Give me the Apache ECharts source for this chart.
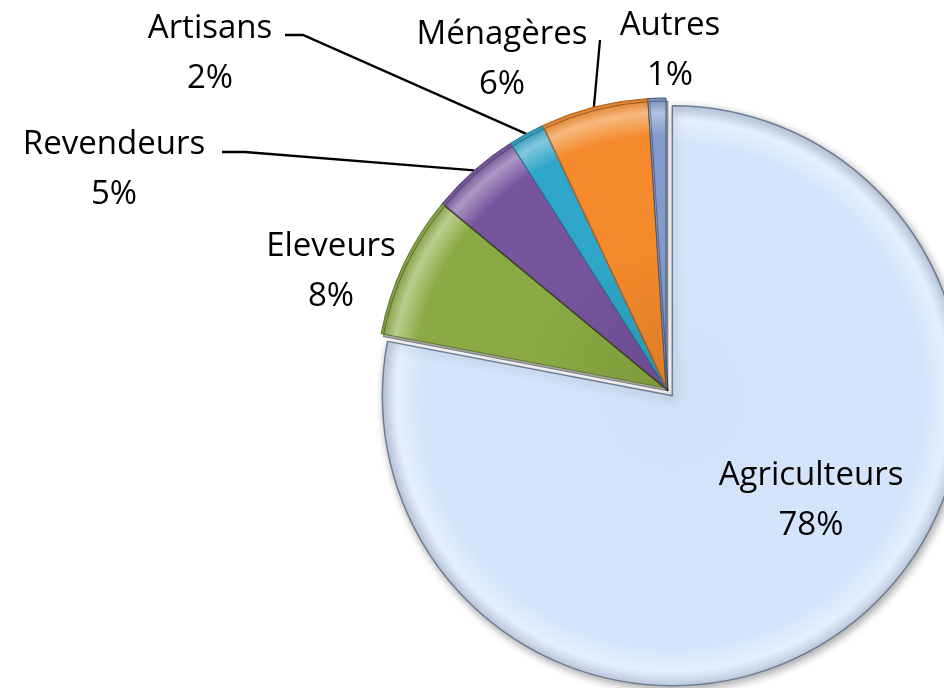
<!DOCTYPE html>
<html>
<head>
<meta charset="utf-8">
<script src="https://cdn.jsdelivr.net/npm/echarts@6/dist/echarts.min.js"></script>
<style>
  html, body { margin: 0; background: #fff; }
  #chart { width: 944px; height: 688px; }
</style>
</head>
<body>
<div id="chart"></div>
<script>
const categories = ['Agriculteurs', 'Eleveurs', 'Revendeurs', 'Artisans', 'Ménagères', 'Autres']
const shares = [78, 8, 5, 2, 6, 1]
const pulledOut = 0 // index of the slice drawn pulled away from the pie

const colors = ['#d4e5fb', '#8aab43', '#76549e', '#2fa5c7', '#f48a2b', '#819bcc']
const edgeColors = ['#6f7d92', '#5f7a2c', '#553a78', '#1f7d99', '#b3621a', '#3f5378']

// label centres and leader-line elbows (px)
const labelAt = [[811, 501], [331, 272], [114, 170], [210, 54], [502, 60], [670, 51]]
const elbows = [null, null, [[245, 152], [222, 152]], [[303, 35], [285, 35]], [[600, 40]], null]

const CX = 666
const CY = 388
const R = 290
const OFFSET = 10

function mix(hex, target, t) {
  const a = parseInt(hex.slice(1), 16)
  const b = parseInt(target.slice(1), 16)
  const ch = (v, s) => (v >> s) & 255
  const out = [16, 8, 0].map(s => Math.round(ch(a, s) + (ch(b, s) - ch(a, s)) * t))
  return '#' + out.map(v => v.toString(16).padStart(2, '0')).join('')
}

const total = shares.reduce((s, v) => s + v, 0)
const before = shares.slice(0, pulledOut).reduce((s, v) => s + v, 0)
const midAngle = ((before + shares[pulledOut] / 2) / total) * Math.PI * 2
const PX = CX + Math.sin(midAngle) * OFFSET
const PY = CY - Math.cos(midAngle) * OFFSET

const chart = echarts.init(document.getElementById('chart'))

function makeData(drawPulled) {
  return categories.map((name, i) => {
    const visible = (i === pulledOut) === drawPulled
    if (!visible) {
      return {
        name,
        value: shares[i],
        label: { show: false },
        labelLine: { show: false },
        itemStyle: { color: 'rgba(0,0,0,0)', borderWidth: 0 },
      }
    }
    const gx = drawPulled ? PX : CX
    const gy = drawPulled ? PY : CY
    return {
      name,
      value: shares[i],
      label: { position: drawPulled ? 'inside' : 'outside' },
      labelLine: { show: !!elbows[i] },
      itemStyle: {
        color: {
          type: 'radial',
          x: gx,
          y: gy,
          r: R,
          global: true,
          colorStops: [
            { offset: 0, color: mix(colors[i], '#000000', drawPulled ? 0.02 : 0.1) },
            { offset: 0.5, color: colors[i] },
            { offset: 0.87, color: colors[i] },
            { offset: 0.95, color: mix(colors[i], '#ffffff', 0.4) },
            { offset: 1, color: mix(colors[i], '#000000', 0.1) },
          ],
        },
        borderColor: edgeColors[i],
        borderWidth: drawPulled ? 1.5 : 1,
        shadowBlur: drawPulled ? 8 : 0,
        shadowColor: 'rgba(0,0,0,0.35)',
        shadowOffsetX: 2,
        shadowOffsetY: 3,
      },
    }
  })
}

const labelLayout = params => {
  const i = params.dataIndex
  const out = {
    x: labelAt[i][0],
    y: labelAt[i][1],
    align: 'center',
    verticalAlign: 'middle',
  }
  if (elbows[i] && params.labelLinePoints) {
    out.labelLinePoints = [params.labelLinePoints[0]].concat(elbows[i])
  }
  return out
}

const baseSeries = {
  type: 'pie',
  radius: R,
  startAngle: 90,
  clockwise: true,
  avoidLabelOverlap: false,
  emphasis: { disabled: true },
  label: {
    show: true,
    formatter: p => p.name + '\n' + p.value + '%',
    fontFamily: 'Open Sans',
    fontSize: 33,
    lineHeight: 50,
    color: '#000',
    align: 'center',
  },
  labelLine: {
    show: true,
    length: 20,
    length2: 20,
    smooth: false,
    lineStyle: { color: '#000', width: 2.3 },
  },
  labelLayout,
}

chart.setOption({
  animation: false,
  series: [
    Object.assign({}, baseSeries, { center: [PX, PY], data: makeData(true) }),
    Object.assign({}, baseSeries, { center: [CX, CY], data: makeData(false) }),
  ],
})
</script>
</body>
</html>
